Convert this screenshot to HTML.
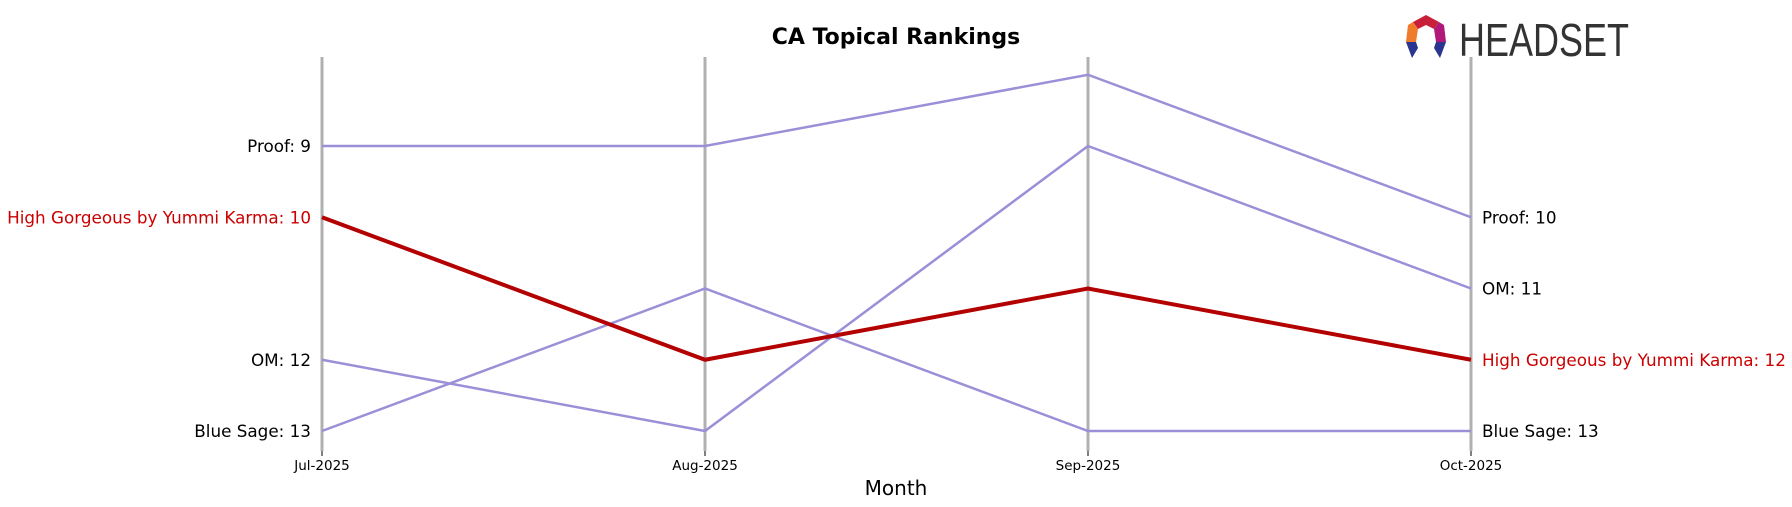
<!DOCTYPE html>
<html><head><meta charset="utf-8"><style>
body{margin:0;background:#fff;}
svg{display:block;font-family:"DejaVu Sans","Liberation Sans",sans-serif;}
</style></head><body>
<svg id="chart" width="1792" height="507" viewBox="0 0 1792 507" xmlns="http://www.w3.org/2000/svg">
<text x="896" y="44" text-anchor="middle" font-size="22" font-weight="bold">CA Topical Rankings</text>
<g>
<polygon points="1413,22 1426,15 1439,22 1434,29 1426,25 1418,29" fill="#c8203a"/>
<polygon points="1413,22 1418,29 1416,42 1406,42 1408,25" fill="#f07b2a"/>
<polygon points="1439,22 1434,29 1436,42 1446,42 1444,25" fill="#b0187a"/>
<polygon points="1406,42 1416,42 1418,48 1412,58" fill="#2a3590"/>
<polygon points="1446,42 1436,42 1434,48 1440,58" fill="#2a3590"/>
<text x="1459" y="56" font-family="Liberation Sans Narrow, Liberation Sans, sans-serif" font-size="46" fill="#333" textLength="170" lengthAdjust="spacingAndGlyphs">HEADSET</text>
</g>
<g id="axes"></g>
<g id="lines"></g>
<g id="labels"></g>
<text x="896" y="495" text-anchor="middle" font-size="20">Month</text>
</svg>
<script>
const months = ["Jul-2025","Aug-2025","Sep-2025","Oct-2025"];
const seriesNames = ["Proof","OM","Blue Sage","High Gorgeous by Yummi Karma"];
const proofRanks = [9,9,8,10];
const omRanks = [12,13,9,11];
const blueSageRanks = [13,11,13,13];
const highGorgeousRanks = [10,12,11,12];
const allRanks = [proofRanks, omRanks, blueSageRanks, highGorgeousRanks];
const highlight = [false,false,false,true];

const NS="http://www.w3.org/2000/svg";
function xPos(i){return 322 + i*(1471-322)/(months.length-1);}
function yPos(r){return 146 + (r-9)*71.25;}
function mk(tag,attrs,parent){const e=document.createElementNS(NS,tag);for(const k in attrs)e.setAttribute(k,attrs[k]);parent.appendChild(e);return e;}
const axes=document.getElementById('axes'),lines=document.getElementById('lines'),labels=document.getElementById('labels');
months.forEach((m,i)=>{
  const x=xPos(i);
  const l=mk('line',{x1:x,x2:x,y1:57,y2:451,stroke:'#b0b0b0','stroke-width':3},axes);
  
  
  const tk=mk('line',{x1:x,x2:x,y1:451,y2:456,stroke:'#000','stroke-width':1},axes);
  
  
  const t=mk('text',{x:x,y:470,'text-anchor':'middle','font-size':13.5},axes);
  t.textContent=m;
  
  
});
allRanks.forEach((rs,s)=>{
  const hl=highlight[s];
  const pts=rs.map((r,i)=>xPos(i)+','+yPos(r)).join(' ');
  const p=mk('polyline',{points:pts,fill:'none',stroke:hl?'#b30000':'#9b8fd8','stroke-width':hl?4:2.5},lines);
  
  
  const col=hl?'#cc0000':'#000';
  const a=mk('text',{x:xPos(0)-11,y:yPos(rs[0])+6,'text-anchor':'end','font-size':16.8,fill:col},labels);
  a.textContent=seriesNames[s]+': '+rs[0];
  
  
  const n=rs.length-1;
  const b=mk('text',{x:xPos(n)+11,y:yPos(rs[n])+6,'text-anchor':'start','font-size':16.8,fill:col},labels);
  b.textContent=seriesNames[s]+': '+rs[n];
  
  
});
</script>
</body></html>
